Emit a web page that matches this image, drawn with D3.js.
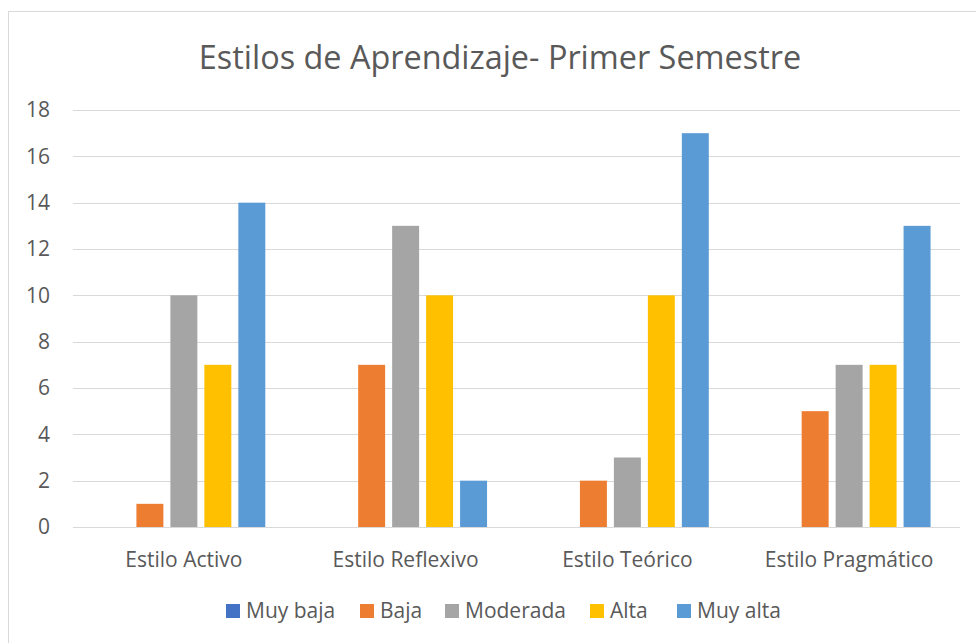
<!DOCTYPE html>
<html>
<head>
<meta charset="utf-8">
<script src="https://cdnjs.cloudflare.com/ajax/libs/d3/7.8.5/d3.min.js"></script>
<style>
  body { margin: 0; background: #fff; }
  svg { display: block; font-family: "Open Sans", "Noto Sans", sans-serif; }
</style>
</head>
<body>
<div id="chart"></div>
<script>
// Data
const categories = ["Estilo Activo", "Estilo Reflexivo", "Estilo Teórico", "Estilo Pragmático"];
const seriesNames = ["Muy baja", "Baja", "Moderada", "Alta", "Muy alta"];
const muyBaja  = [0, 0, 0, 0];
const baja     = [1, 7, 2, 5];
const moderada = [10, 13, 3, 7];
const alta     = [7, 10, 10, 7];
const muyAlta  = [14, 2, 17, 13];
const yTicks = [0, 2, 4, 6, 8, 10, 12, 14, 16, 18];
const colors = ["#4472C4", "#ED7D31", "#A5A5A5", "#FFC000", "#5B9BD5"];

const seriesValues = [muyBaja, baja, moderada, alta, muyAlta];
const width = 976, height = 643;
const margin = { top: 110, right: 16, bottom: 116, left: 73 };

const svg = d3.select("#chart").append("svg")
    .attr("width", width)
    .attr("height", height);

// chart frame
svg.append("rect")
    .attr("x", 8.5).attr("y", 11.5)
    .attr("width", 980).attr("height", 660)
    .attr("fill", "none")
    .attr("stroke", "#d9d9d9");

const x0 = d3.scaleBand()
    .domain(categories)
    .range([margin.left, width - margin.right])
    .paddingInner(0.235)
    .paddingOuter(0.1175);

const x1 = d3.scaleBand()
    .domain(seriesNames)
    .range([0, x0.bandwidth()])
    .paddingInner(0.206)
    .paddingOuter(0.1);

const y = d3.scaleLinear()
    .domain([0, 18])
    .range([height - margin.bottom, margin.top]);

// gridlines
svg.append("g")
    .selectAll("line")
    .data(yTicks)
    .join("line")
    .attr("x1", margin.left)
    .attr("x2", width - margin.right)
    .attr("y1", d => Math.round(y(d)) + 0.5)
    .attr("y2", d => Math.round(y(d)) + 0.5)
    .attr("stroke", "#d9d9d9")
    .attr("stroke-width", 1);

// y axis labels
svg.append("g")
    .selectAll("text")
    .data(yTicks)
    .join("text")
    .attr("x", 50)
    .attr("y", d => y(d))
    .attr("dy", "0.35em")
    .attr("text-anchor", "end")
    .attr("fill", "#595959")
    .style("font-size", "21px")
    .text(d => d);

// bars
const groups = svg.append("g")
    .selectAll("g")
    .data(categories)
    .join("g")
    .attr("transform", d => `translate(${x0(d)},0)`);

groups.selectAll("rect")
    .data((c, ci) => seriesNames.map((s, si) => ({ s, si, v: seriesValues[si][ci] })))
    .join("rect")
    .attr("x", d => x1(d.s))
    .attr("width", x1.bandwidth())
    .attr("y", d => y(d.v))
    .attr("height", d => y(0) - y(d.v))
    .attr("fill", d => colors[d.si]);

// category labels
svg.append("g")
    .selectAll("text")
    .data(categories)
    .join("text")
    .attr("x", d => x0(d) + x0.bandwidth() / 2)
    .attr("y", 567)
    .attr("text-anchor", "middle")
    .attr("fill", "#595959")
    .style("font-size", "21px")
    .text(d => d);

// title
svg.append("text")
    .attr("x", 500)
    .attr("y", 69)
    .attr("text-anchor", "middle")
    .attr("fill", "#595959")
    .style("font-size", "32.4px")
    .text("Estilos de Aprendizaje- Primer Semestre");

// legend
const legend = svg.append("g").attr("transform", "translate(0,611)");
const legendX = [226, 360, 445, 590, 677];
const items = legend.selectAll("g")
    .data(seriesNames)
    .join("g")
    .attr("transform", (d, i) => `translate(${legendX[i]},0)`);
items.append("rect")
    .attr("x", 0).attr("y", -7)
    .attr("width", 14).attr("height", 14)
    .attr("fill", (d, i) => colors[i]);
items.append("text")
    .attr("x", 20)
    .attr("y", 0)
    .attr("dy", "0.35em")
    .attr("fill", "#595959")
    .style("font-size", "21px")
    .text(d => d);
</script>
</body>
</html>
